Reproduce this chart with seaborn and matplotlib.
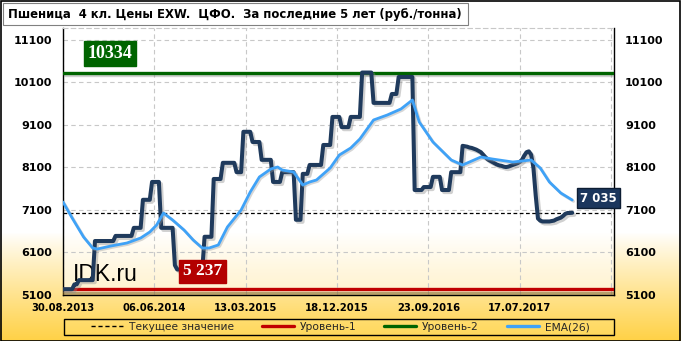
import numpy as np
import pandas as pd
import matplotlib
matplotlib.use("Agg")
import matplotlib.pyplot as plt
import matplotlib.patheffects as pe
from matplotlib.lines import Line2D
from matplotlib.patches import Rectangle
import seaborn as sns

# ---------------- data ----------------
title = "Пшеница  4 кл. Цены EXW.  ЦФО.  За последние 5 лет (руб./тонна)"
tick_weeks = [0, 40, 80, 120, 160, 200, 240]
tick_labels = ["30.08.2013", "06.06.2014", "13.03.2015", "18.12.2015",
               "23.09.2016", "17.07.2017", ""]
y_ticks = [5100, 6100, 7100, 8100, 9100, 10100, 11100]

price = [
    5237, 5237, 5237, 5237, 5237, 5350, 5350, 5450, 5450, 5450,
    5450, 5450, 5450, 5450, 6370, 6370, 6370, 6370, 6370, 6370,
    6370, 6370, 6370, 6490, 6490, 6490, 6490, 6490, 6490, 6490,
    6490, 6680, 6680, 6680, 6680, 7340, 7340, 7340, 7340, 7760,
    7760, 7760, 7760, 6680, 6680, 6680, 6680, 6680, 6680, 5800,
    5700, 5700, 5700, 5700, 5700, 5700, 5700, 5700, 5700, 5700,
    5700, 5700, 6470, 6470, 6470, 6470, 7830, 7830, 7830, 7830,
    8210, 8210, 8210, 8210, 8210, 8210, 7990, 7990, 7990, 8940,
    8940, 8940, 8940, 8700, 8700, 8700, 8700, 8280, 8280, 8280,
    8280, 8280, 7760, 7760, 7760, 7760, 7990, 7990, 7990, 7990,
    7990, 7990, 6870, 6870, 6870, 7950, 7950, 7950, 8160, 8160,
    8160, 8160, 8160, 8160, 8630, 8630, 8630, 8630, 9290, 9290,
    9290, 9290, 9050, 9050, 9050, 9050, 9290, 9290, 9290, 9290,
    9290, 10334, 10334, 10334, 10334, 10334, 9620, 9620, 9620, 9620,
    9620, 9620, 9620, 9620, 9830, 9830, 9830, 10230, 10230, 10230,
    10230, 10230, 10230, 10230, 7570, 7570, 7570, 7570, 7640, 7640,
    7640, 7640, 7880, 7880, 7880, 7880, 7570, 7570, 7570, 7570,
    7990, 7990, 7990, 7990, 7990, 8610, 8600, 8590, 8570, 8560,
    8540, 8520, 8490, 8460, 8400, 8340, 8290, 8260, 8230, 8200,
    8170, 8150, 8140, 8120, 8110, 8120, 8140, 8160, 8180, 8200,
    8230, 8280, 8380, 8460, 8480, 8400, 8100, 7450, 6900, 6850,
    6830, 6830, 6830, 6830, 6840, 6850, 6880, 6900, 6920, 6960,
    7010, 7030, 7030, 7035,
]
weeks = list(range(len(price)))

ema_weeks = [0, 4, 9, 13, 15, 21, 28, 34, 38, 41, 44, 48, 53, 57, 61, 64,
             68, 72, 78, 82, 86, 91, 94, 96, 101, 105, 108, 111, 117, 121,
             126, 130, 136, 142, 148, 153, 156, 162, 170, 175, 183, 188,
             197, 205, 209, 213, 218, 223]
ema_values = [7288, 6912, 6465, 6206, 6182, 6253, 6324, 6441, 6582, 6747,
              7029, 6865, 6629, 6394, 6206, 6206, 6277, 6700, 7100, 7524,
              7877, 8065, 8112, 8041, 7994, 7688, 7759, 7806, 8088, 8394,
              8559, 8771, 9218, 9335, 9477, 9688, 9171, 8700, 8277, 8159,
              8347, 8300, 8229, 8277, 8088, 7759, 7500, 7335]

current_value = 7035
level_1 = 5237
level_2 = 10334

legend_labels = ["Текущее значение", "Уровень-1", "Уровень-2", "EMA(26)"]

# ---------------- style ----------------
sns.set_theme(style="white")
plt.rcParams["font.family"] = ["DejaVu Sans"]

W, H = 681, 341
fig = plt.figure(figsize=(W / 100, H / 100), dpi=100)

# background gradient (white -> yellow at bottom)
bg = fig.add_axes([0, 0, 1, 1], zorder=-10)
rows = np.arange(H)
t = np.clip((rows - 232) / (H - 232), 0, 1) ** 0.9
white = np.array([1.0, 1.0, 1.0])
yellow = np.array([1.0, 0.82, 0.27])
grad = white[None, :] * (1 - t[:, None]) + yellow[None, :] * t[:, None]
bg.imshow(grad[:, None, :], aspect="auto", extent=[0, 1, 0, 1], origin="upper")
bg.set_xlim(0, 1); bg.set_ylim(0, 1)
bg.axis("off")
bg.add_patch(Rectangle((0.5 / W, 0.5 / H), 1 - 1.5 / W, 1 - 1.5 / H,
                       fill=False, edgecolor="black", lw=1.2))
# title box
bg.add_patch(Rectangle((3 / W, 1 - 25 / H), 465 / W, 22 / H,
                       facecolor="white", edgecolor="#808080", lw=0.8))
bg.text(8 / W, 1 - 14.5 / H, title, fontsize=8.35, fontweight="bold",
        va="center", ha="left", color="black")
# legend frame
bg.add_patch(Rectangle((64 / W, 1 - 335 / H), (614 - 64) / W, 16 / H,
                       facecolor=(1, 0.9, 0.5, 0.3), edgecolor="black", lw=1.0))

ax = fig.add_axes([63 / W, 1 - 295 / H, (614 - 63) / W, (295 - 28) / H])
ax.set_facecolor((1, 1, 1, 0.55))

df_price = pd.DataFrame({"week": weeks, "price": price})
df_ema = pd.DataFrame({"week": ema_weeks, "ema": ema_values})

shadow = [pe.SimpleLineShadow(offset=(1.5, -1.5), shadow_color="#8a8a8a", alpha=0.4),
          pe.Normal()]

ax.axhline(level_2, color="#006400", lw=2.4, zorder=3, path_effects=shadow)
ax.axhline(level_1, color="#c00000", lw=2.4, zorder=3,
           path_effects=[pe.SimpleLineShadow(offset=(0, -2.5), shadow_color="#8a6a2a", alpha=0.6),
                         pe.Normal()])
ax.axhline(current_value, color="black", lw=0.9, ls=(0, (3, 2)), zorder=3)

sns.lineplot(data=df_price, x="week", y="price", ax=ax, color="#1f3a5c",
             lw=2.9, zorder=5, path_effects=shadow, solid_joinstyle="round",
             solid_capstyle="round")
sns.lineplot(data=df_ema, x="week", y="ema", ax=ax, color="#3fa2f7",
             lw=2.0, zorder=6,
             path_effects=[pe.SimpleLineShadow(offset=(1.0, -1.0), shadow_color="#9a9a9a", alpha=0.4),
                           pe.Normal()])

ax.set_xlim(0, 241.3)
ax.set_ylim(5100, 11382)
ax.set_xticks(tick_weeks)
ax.set_xticklabels(tick_labels, fontsize=7.2, fontweight="bold")
ax.set_yticks(y_ticks)
ax.set_yticklabels([str(v) for v in y_ticks], fontsize=8, fontweight="bold")
ax.tick_params(axis="both", length=0, colors="black")
ax.tick_params(axis="y", pad=8, labelright=True, labelleft=True)
ax.tick_params(axis="x", pad=6)
ax.grid(True, color="#c8c8c8", ls=(0, (4, 3)), lw=0.8)
ax.set_xlabel(""); ax.set_ylabel("")
for s in ax.spines.values():
    s.set_color("black"); s.set_linewidth(1.0)
ax.spines["top"].set_color("#c8c8c8")
ax.spines["top"].set_linestyle((0, (4, 3)))
ax.spines["top"].set_linewidth(0.8)

# value labels
def label(x, y, text, fc, fs, family):
    ax.text(x, y, text, fontsize=fs, fontweight="bold", color="white",
            family=family, ha="center", va="center", zorder=10, clip_on=False,
            bbox=dict(boxstyle="square,pad=0.22", fc=fc, ec=fc, lw=1))

label(20.6, 10771, str(level_2), "#006400", 13, "Liberation Serif")
label(61.2, 5653, "5 237", "#b30000", 12.5, "Liberation Serif")
ax.text(234.5, 7382, "7 035", fontsize=8.5, fontweight="bold", color="white",
        ha="center", va="center", zorder=10, clip_on=False,
        bbox=dict(boxstyle="square,pad=0.3", fc="#1b365d", ec="#0d1d33", lw=1))

ax.text(4.4, 5430, "IDK.ru", fontsize=16.5, family="Liberation Sans",
        color="black", ha="left", va="baseline", zorder=4)

# legend (entries only; frame drawn above)
handles = [Line2D([], [], color="black", lw=1, ls=(0, (3, 2))),
           Line2D([], [], color="#c00000", lw=2.4),
           Line2D([], [], color="#006400", lw=2.4),
           Line2D([], [], color="#3fa2f7", lw=2.4)]
leg = fig.legend(handles, legend_labels, loc="center", ncol=4,
                 bbox_to_anchor=(340 / W, 1 - 327 / H),
                 fontsize=7.7, frameon=False,
                 handlelength=3.0, handletextpad=0.55, columnspacing=2.6,
                 borderpad=0, borderaxespad=0)

fig.savefig("out.png", dpi=100)
